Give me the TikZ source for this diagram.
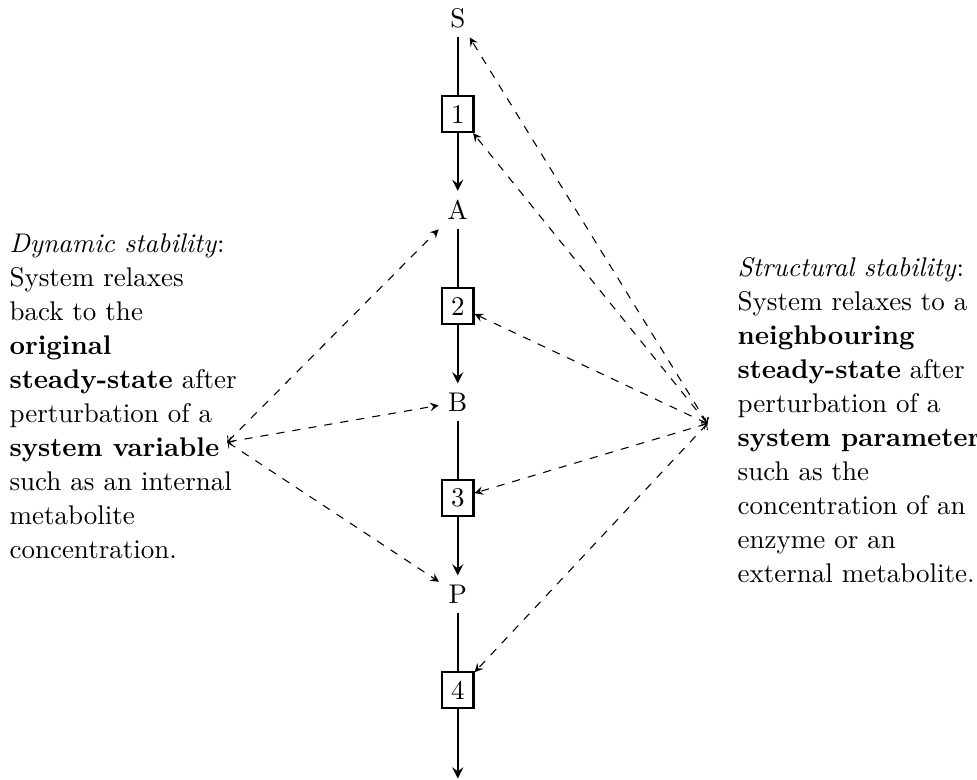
\documentclass[tikz,border=0pt]{standalone}
\usepackage{amsmath}
\usetikzlibrary{positioning}

\begin{document}
\begin{tikzpicture}[>=stealth,
        enz/.style={draw,thick},
        flux/.style={thick},
        pert/.style={dashed,to-stealth},
        note/.style={align=flush left,font=\fontsize{10}{12.6}\selectfont}]
        \useasboundingbox (-5.96,0.235) rectangle (6.76,-9.92);

        % pathway
        \node (S) at (0,0) {S};
        \node[enz] (r1) at (0,-1.25) {1};
        \node (A) at (0,-2.5) {A};
        \node[enz] (r2) at (0,-3.75) {2};
        \node (B) at (0,-5) {B};
        \node[enz] (r3) at (0,-6.25) {3};
        \node (P) at (0,-7.5) {P};
        \node[enz] (r4) at (0,-8.75) {4};
        \coordinate (out) at (0,-9.9);

        \draw[flux] (S) -- (r1);
        \draw[flux,->] (r1) -- (A);
        \draw[flux] (A) -- (r2);
        \draw[flux,->] (r2) -- (B);
        \draw[flux] (B) -- (r3);
        \draw[flux,->] (r3) -- (P);
        \draw[flux] (P) -- (r4);
        \draw[flux,->] (r4) -- (out);

        % dynamic stability
        \node[note,text width=3cm,anchor=west] (dyn) at (-5.96,-4.92)
            {\textit{Dynamic stability}:
             System relaxes back to the \textbf{original steady-state} after
             perturbation of a \textbf{system variable} such as an internal
             metabolite concentration.};
        \coordinate (dynpt) at (-3.0,-5.52);
        \draw[pert] (dynpt) -- (A);
        \draw[pert] (dynpt) -- (B);
        \draw[pert] (dynpt) -- (P);

        % structural stability
        \node[note,text width=3.2cm,anchor=west] (str) at (3.52,-5.23)
            {\textit{Structural stability}:
             System relaxes to a \textbf{neighbouring steady-state} after
             perturbation of a \textbf{system parameter} such as the
             concentration of an enzyme or an external metabolite.};
        \coordinate (strpt) at (3.25,-5.28);
        \draw[pert] (strpt) -- (S);
        \draw[pert] (strpt) -- (r1);
        \draw[pert] (strpt) -- (r2);
        \draw[pert] (strpt) -- (r3);
        \draw[pert] (strpt) -- (r4);
    \end{tikzpicture}
\end{document}
